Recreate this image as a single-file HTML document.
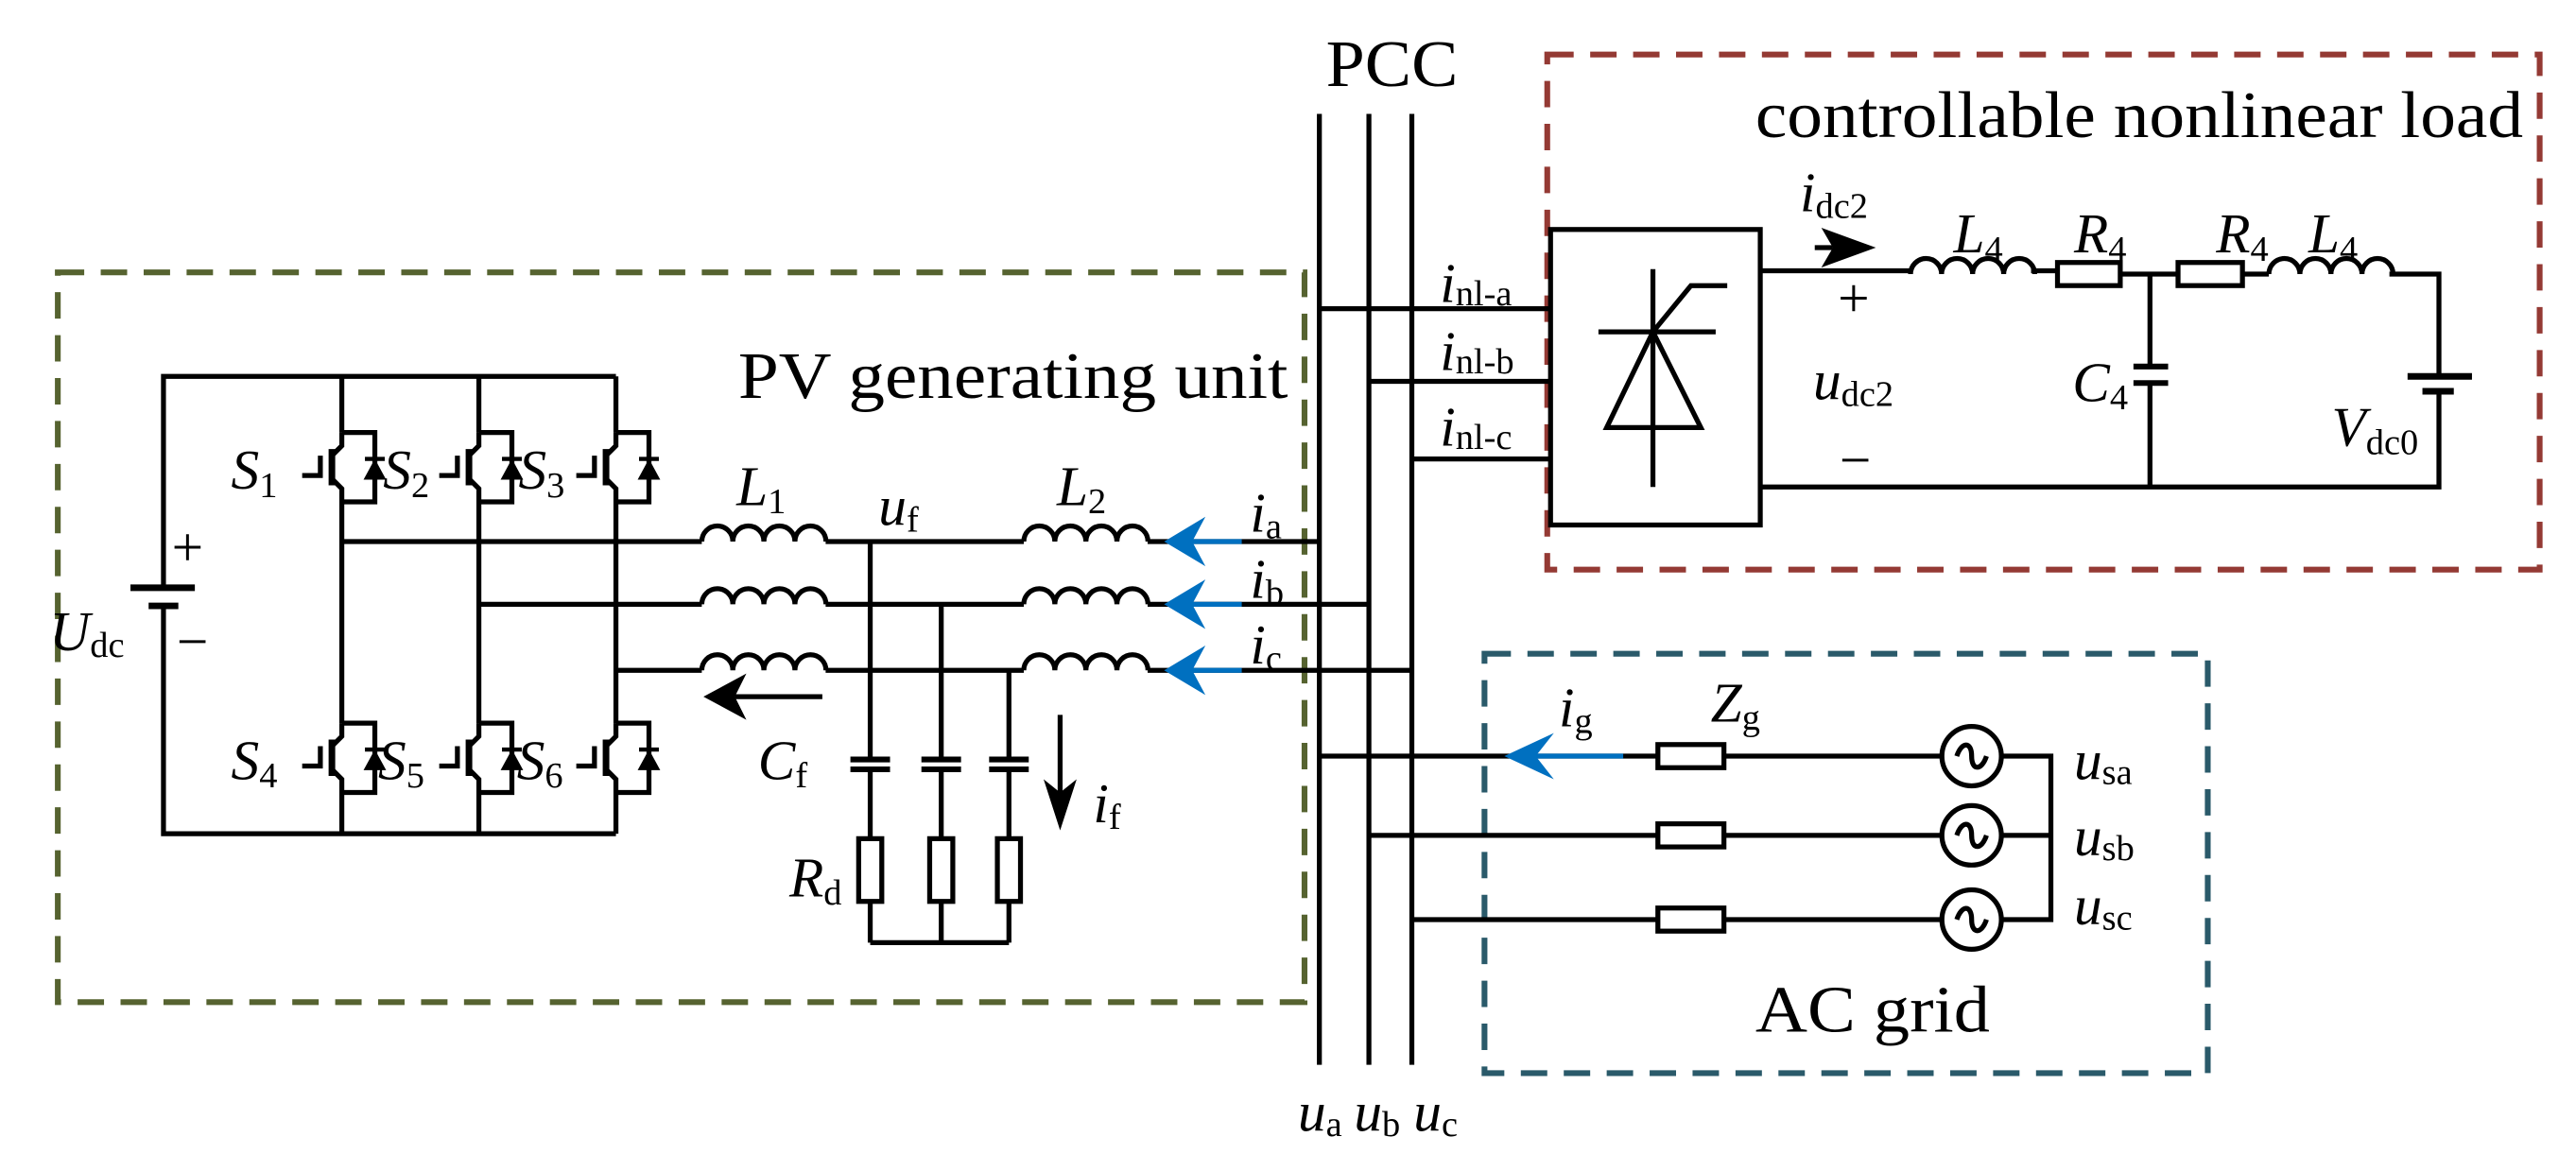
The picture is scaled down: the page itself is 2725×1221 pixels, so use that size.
<!DOCTYPE html>
<html><head><meta charset="utf-8"><style>
html,body{margin:0;padding:0;background:#fff;}
svg{display:block}
text{font-family:"Liberation Serif",serif;fill:#000}
.i{font-style:italic}
</style></head><body>
<svg width="2725" height="1221" viewBox="0 0 1560 699" preserveAspectRatio="none" xmlns="http://www.w3.org/2000/svg">
<defs>
<g id="sw" fill="none" stroke="#000" stroke-width="3">
<path d="M0,0 V8 L-6,14 M-6,28 L0,34 V42"/>
<line x1="-6" y1="10" x2="-6" y2="32" stroke-width="4"/>
<path d="M-24,26 H-13 V14"/>
<path d="M0,0 H20 V42 H0"/>
<polygon points="14,28 26,28 20,17" fill="#000" stroke-width="1"/>
<line x1="14" y1="16" x2="26" y2="16" stroke-width="2.5"/>
</g>
<path id="ind" d="M0,0 a9.4,9.4 0 0 1 18.8,0 a9.4,9.4 0 0 1 18.8,0 a9.4,9.4 0 0 1 18.8,0 a9.4,9.4 0 0 1 18.8,0" fill="none" stroke="#000" stroke-width="3"/>
</defs>

<rect x="35" y="165" width="755" height="442" fill="none" stroke="#566330" stroke-width="3.5" stroke-dasharray="16 10"/>
<rect x="937" y="33" width="601" height="312" fill="none" stroke="#943a34" stroke-width="3.5" stroke-dasharray="16 10"/>
<rect x="899" y="396" width="438" height="254" fill="none" stroke="#2a5a6a" stroke-width="3.5" stroke-dasharray="16 10"/>

<g stroke="#000" stroke-width="3" fill="none">
<path d="M99,356 V228 H373 M99,367 V505 H373"/>
<path d="M207,228 V262 M207,304 V438 M207,480 V505"/>
<path d="M290,228 V262 M290,304 V438 M290,480 V505"/>
<path d="M373,228 V262 M373,304 V438 M373,480 V505"/>
<line x1="79" y1="356" x2="118" y2="356" stroke-width="4"/>
<line x1="90" y1="367" x2="108" y2="367" stroke-width="4"/>
<path d="M207,328 H425 M500,328 H620 M695,328 H799"/>
<path d="M290,366 H425 M500,366 H620 M695,366 H829"/>
<path d="M373,406 H425 M500,406 H620 M695,406 H855"/>
<path d="M527,328 V460 M527,466 V508 M527,546 V571"/>
<path d="M570,366 V460 M570,466 V508 M570,546 V571"/>
<path d="M611,406 V460 M611,466 V508 M611,546 V571"/>
<path d="M527,571 H611"/>
<g stroke-width="3.5">
<path d="M515,460 H539 M515,466 H539 M558,460 H582 M558,466 H582 M599,460 H623 M599,466 H623"/>
</g>
<rect x="520" y="508" width="14" height="38"/>
<rect x="563" y="508" width="14" height="38"/>
<rect x="604" y="508" width="14" height="38"/>
<path d="M799,69 V645 M829,69 V645 M855,69 V645"/>
<path d="M799,187 H939 M829,231 H939 M855,278 H939"/>
<rect x="939" y="139" width="127" height="179"/>
<path d="M1001,163 V295 M968,201 H1039 M1001,201 L1024,173 H1046"/>
<polygon points="1001,201 973,259 1030,259"/>
<path d="M1066,164 H1157 M1230,164 H1246 M1284,166 H1319 M1358,166 H1374 M1447,166 H1477 V228 M1477,237 V295 H1066"/>
<rect x="1246" y="159" width="38" height="14"/>
<rect x="1319" y="159" width="39" height="14"/>
<path d="M1302,166 V222 M1302,232 V295"/>
<path d="M1292,222 H1313 M1292,232 H1313" stroke-width="3.5"/>
<line x1="1458" y1="228" x2="1497" y2="228" stroke-width="4"/>
<line x1="1467" y1="237" x2="1486" y2="237" stroke-width="4"/>
<path d="M799,458 H1004 M1044,458 H1176 M1212,458 H1242 V557 H1212 M1176,557 H1044 M1004,557 H855"/>
<path d="M829,506 H1004 M1044,506 H1176 M1212,506 H1242"/>
<rect x="1004" y="451" width="40" height="14"/>
<rect x="1004" y="499" width="40" height="14"/>
<rect x="1004" y="550" width="40" height="14"/>
<circle cx="1194" cy="458" r="18"/>
<circle cx="1194" cy="506" r="18"/>
<circle cx="1194" cy="557" r="18"/>
<path d="M1185,458 c3,-9 9,-9 9,0 s6,9 9,0 M1185,506 c3,-9 9,-9 9,0 s6,9 9,0 M1185,557 c3,-9 9,-9 9,0 s6,9 9,0"/>
<path d="M445,422 H498 M642,433 V480"/>
</g>
<use href="#ind" x="425" y="328"/><use href="#ind" x="425" y="366"/><use href="#ind" x="425" y="406"/>
<use href="#ind" x="620" y="328"/><use href="#ind" x="620" y="366"/><use href="#ind" x="620" y="406"/>
<use href="#ind" x="1157" y="166"/>
<use href="#ind" x="1374" y="166"/>
<use href="#sw" x="207" y="262"/><use href="#sw" x="290" y="262"/><use href="#sw" x="373" y="262"/>
<use href="#sw" x="207" y="438"/><use href="#sw" x="290" y="438"/><use href="#sw" x="373" y="438"/>
<polygon points="426,422 452,408 445,422 452,436" fill="#000"/>
<polygon points="642,503 632,472 642,480 652,472" fill="#000"/>
<polygon points="1136,150 1103,138 1110,150 1103,162" fill="#000"/>
<line x1="1099" y1="150" x2="1110" y2="150" stroke="#000" stroke-width="3"/>
<g fill="#0070c0" stroke="#0070c0">
<line x1="715" y1="328" x2="752" y2="328" stroke-width="3"/>
<line x1="715" y1="366" x2="752" y2="366" stroke-width="3"/>
<line x1="715" y1="406" x2="752" y2="406" stroke-width="3"/>
<line x1="920" y1="458" x2="983" y2="458" stroke-width="3"/>
<polygon points="705,328 730,313 722,328 730,343" stroke="none"/>
<polygon points="705,366 730,351 722,366 730,381" stroke="none"/>
<polygon points="705,406 730,391 722,406 730,421" stroke="none"/>
<polygon points="911,458 941,444 930,458 941,472" stroke="none"/>
</g>

<g font-size="40">
<text x="447" y="241" textLength="333" lengthAdjust="spacingAndGlyphs">PV generating unit</text>
<text x="803" y="52" textLength="80" lengthAdjust="spacingAndGlyphs">PCC</text>
<text x="1063" y="83" textLength="465" lengthAdjust="spacingAndGlyphs">controllable nonlinear load</text>
<text x="1063" y="625" textLength="142" lengthAdjust="spacingAndGlyphs">AC grid</text>
</g>
<g font-size="34">
<text x="140" y="296"><tspan class="i">S</tspan><tspan font-size="22" dy="5">1</tspan></text>
<text x="232" y="296"><tspan class="i">S</tspan><tspan font-size="22" dy="5">2</tspan></text>
<text x="314" y="296"><tspan class="i">S</tspan><tspan font-size="22" dy="5">3</tspan></text>
<text x="140" y="472"><tspan class="i">S</tspan><tspan font-size="22" dy="5">4</tspan></text>
<text x="229" y="472"><tspan class="i">S</tspan><tspan font-size="22" dy="5">5</tspan></text>
<text x="313" y="472"><tspan class="i">S</tspan><tspan font-size="22" dy="5">6</tspan></text>
<text x="30" y="394"><tspan class="i">U</tspan><tspan font-size="22" dy="4">dc</tspan></text>
<text x="104" y="343">+</text>
<text x="107" y="400">−</text>
<text x="446" y="306"><tspan class="i">L</tspan><tspan font-size="22" dy="5">1</tspan></text>
<text x="532" y="318"><tspan class="i">u</tspan><tspan font-size="22" dy="4">f</tspan></text>
<text x="640" y="306"><tspan class="i">L</tspan><tspan font-size="22" dy="5">2</tspan></text>
<text x="757" y="322"><tspan class="i">i</tspan><tspan font-size="22" dy="4">a</tspan></text>
<text x="757" y="362"><tspan class="i">i</tspan><tspan font-size="22" dy="4">b</tspan></text>
<text x="757" y="402"><tspan class="i">i</tspan><tspan font-size="22" dy="4">c</tspan></text>
<text x="459" y="472"><tspan class="i">C</tspan><tspan font-size="22" dy="5">f</tspan></text>
<text x="478" y="543"><tspan class="i">R</tspan><tspan font-size="22" dy="5">d</tspan></text>
<text x="662" y="498"><tspan class="i">i</tspan><tspan font-size="22" dy="4">f</tspan></text>
<text x="872" y="183"><tspan class="i">i</tspan><tspan font-size="22" dy="2">nl-a</tspan></text>
<text x="872" y="224"><tspan class="i">i</tspan><tspan font-size="22" dy="2">nl-b</tspan></text>
<text x="872" y="270"><tspan class="i">i</tspan><tspan font-size="22" dy="2">nl-c</tspan></text>
<text x="1090" y="128"><tspan class="i">i</tspan><tspan font-size="22" dy="4">dc2</tspan></text>
<text x="1113" y="192">+</text>
<text x="1114" y="290">−</text>
<text x="1098" y="242"><tspan class="i">u</tspan><tspan font-size="22" dy="4">dc2</tspan></text>
<text x="1183" y="153"><tspan class="i">L</tspan><tspan font-size="22" dy="5">4</tspan></text>
<text x="1256" y="153"><tspan class="i">R</tspan><tspan font-size="22" dy="5">4</tspan></text>
<text x="1342" y="153"><tspan class="i">R</tspan><tspan font-size="22" dy="5">4</tspan></text>
<text x="1398" y="153"><tspan class="i">L</tspan><tspan font-size="22" dy="5">4</tspan></text>
<text x="1255" y="243"><tspan class="i">C</tspan><tspan font-size="22" dy="5">4</tspan></text>
<text x="1412" y="270"><tspan class="i">V</tspan><tspan font-size="22" dy="5">dc0</tspan></text>
<text x="944" y="440"><tspan class="i">i</tspan><tspan font-size="22" dy="4">g</tspan></text>
<text x="1036" y="437"><tspan class="i">Z</tspan><tspan font-size="22" dy="5">g</tspan></text>
<text x="1256" y="472"><tspan class="i">u</tspan><tspan font-size="22" dy="3">sa</tspan></text>
<text x="1256" y="518"><tspan class="i">u</tspan><tspan font-size="22" dy="3">sb</tspan></text>
<text x="1256" y="560"><tspan class="i">u</tspan><tspan font-size="22" dy="3">sc</tspan></text>
<text x="786" y="685"><tspan class="i">u</tspan><tspan font-size="22" dy="3">a</tspan></text>
<text x="820" y="685"><tspan class="i">u</tspan><tspan font-size="22" dy="3">b</tspan></text>
<text x="856" y="685"><tspan class="i">u</tspan><tspan font-size="22" dy="3">c</tspan></text>
</g>
</svg>
</body></html>
